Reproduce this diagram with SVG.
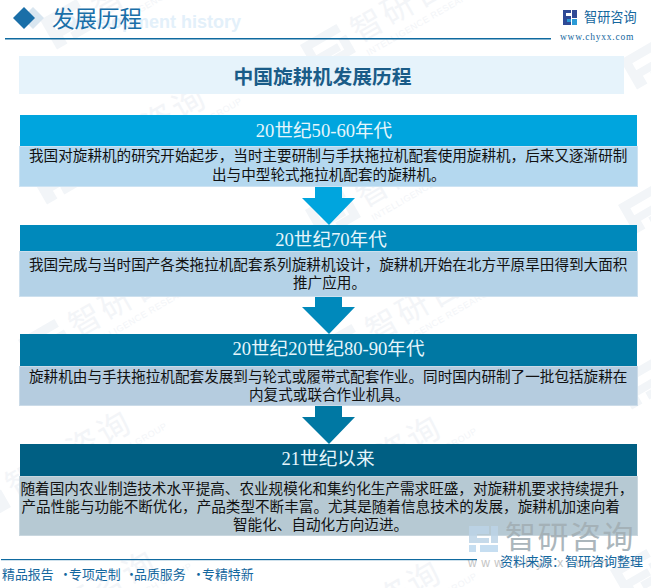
<svg xmlns="http://www.w3.org/2000/svg" width="651" height="588" viewBox="0 0 651 588">
<style>
.h{font-family:"Liberation Serif","Noto Sans CJK SC",serif;font-size:18.6px;fill:#e6f6fc;text-anchor:middle}
.b{font-family:"Noto Sans CJK SC",sans-serif;font-size:14.6px;fill:#111}
.bx{stroke-width:1}
.wt{font-family:"Noto Sans CJK SC",sans-serif;font-size:32px;fill:#f3f5f8;letter-spacing:3px}
.ws{font-family:"Liberation Sans",sans-serif;font-size:9px;fill:#f3f5f8;letter-spacing:.5px}
</style>
<defs>
<g id="wm">
<path d="M0 0h42v9H9v8h24v8H12v9H0zM36 14h9v20H20v-8h16z" fill="#f2f5f8"/>
<text class="wt" x="52" y="28">智研咨询</text>
<text class="ws" x="54" y="44">INTELLIGENCE RESEARCH GROUP</text>
</g>
</defs>
<rect width="651" height="588" fill="#fff"/>
<g id="watermark">
<use href="#wm" transform="translate(30,175) rotate(-30)"/>
<use href="#wm" transform="translate(18,340) rotate(-30)"/>
<use href="#wm" transform="translate(-45,500) rotate(-30)"/>
<use href="#wm" transform="translate(-20,640) rotate(-30)"/>
<use href="#wm" transform="translate(40,20) rotate(-30)"/>
<use href="#wm" transform="translate(300,45) rotate(-30)"/>
<use href="#wm" transform="translate(305,210) rotate(-30)"/>
<use href="#wm" transform="translate(315,345) rotate(-30)"/>
<use href="#wm" transform="translate(265,505) rotate(-30)"/>
<use href="#wm" transform="translate(265,650) rotate(-30)"/>
<use href="#wm" transform="translate(620,60) rotate(-30)"/>
<use href="#wm" transform="translate(618,205) rotate(-30)"/>
<use href="#wm" transform="translate(615,380) rotate(-30)"/>
<use href="#wm" transform="translate(610,570) rotate(-30)"/>
</g>
<g id="header">
<path d="M33 7l11 11-11 11-11-11z" fill="#d9e6f0"/>
<path d="M24 7l11 11-11 11-11-11z" fill="#1a6fa8"/>
<text x="241" y="28" text-anchor="end" font-family="Liberation Sans,sans-serif" font-size="18" font-weight="bold" fill="#e3f0fa">Development history</text>
<text x="52" y="27" font-family="Noto Sans CJK SC,serif" font-size="22.5" fill="#1a6fa8">发展历程</text>
<rect x="5" y="38" width="546" height="1.5" fill="#0f6aa0"/>
<path d="M563 10h8v3h-5v3h5v9h-8zM572 10h5v8h-5z" fill="#2f4a96"/>
<path d="M572 19h5v6h-5zM567 19h4v3h-4z" fill="#2a9ad6"/>
<text x="584" y="22" font-family="Noto Sans CJK SC,sans-serif" font-size="13.2" fill="#14679e">智研咨询</text>
<text x="560" y="40" font-family="Liberation Serif,serif" font-size="9.5" letter-spacing=".75" fill="#14679e">www.chyxx.com</text>
</g>
<g id="title">
<rect x="19" y="56" width="605" height="38" fill="#e6f3fb"/>
<text x="322.5" y="84" font-family="Noto Sans CJK SC,sans-serif" font-size="19.8" font-weight="bold" text-anchor="middle" fill="#1a5c88">中国旋耕机发展历程</text>
</g>
<g id="connectors">
<path id="a1" d="M315 187h27v11h13l-26 27-27-27h13z" fill="#00a5de"/>
<path id="a2" d="M315 297h27v10h13l-26 27-27-27h13z" fill="#0089bb"/>
<path id="a3" d="M315 406h27v11h13l-26 27-27-27h13z" fill="#0078a3"/>
</g>
<g id="node1">
<rect x="20" y="115" width="617" height="31" fill="#00a5de"/>
<rect class="bx" x="19.5" y="146.5" width="618" height="40" fill="#b4d8ef" stroke="#cde3f3"/>
<text class="h" x="324" y="137">20世纪50-60年代</text>
<text class="b" x="29" y="161">我国对旋耕机的研究开始起步，当时主要研制与手扶拖拉机配套使用旋耕机，后来又逐渐研制</text>
<text class="b" x="212" y="180">出与中型轮式拖拉机配套的旋耕机。</text>
</g>
<g id="node2">
<rect x="20" y="225" width="617" height="26" fill="#0089bb"/>
<rect class="bx" x="19.5" y="251.5" width="618" height="45" fill="#b4d2e7" stroke="#cde0ee"/>
<text class="h" x="331" y="246">20世纪70年代</text>
<text class="b" x="29" y="270">我国完成与当时国产各类拖拉机配套系列旋耕机设计，旋耕机开始在北方平原旱田得到大面积</text>
<text class="b" x="293" y="288">推广应用。</text>
</g>
<g id="node3">
<rect x="20" y="334" width="617" height="32" fill="#0078a3"/>
<rect class="bx" x="19.5" y="366.5" width="618" height="39" fill="#b5ccdf" stroke="#cbdbe8"/>
<text class="h" x="328.5" y="355">20世纪20世纪80-90年代</text>
<text class="b" x="29" y="382">旋耕机由与手扶拖拉机配套发展到与轮式或履带式配套作业。同时国内研制了一批包括旋耕在</text>
<text class="b" x="249" y="400">内复式或联合作业机具。</text>
</g>
<g id="node4">
<rect x="20" y="444" width="617" height="32" fill="#005f83"/>
<rect class="bx" x="19.5" y="476.5" width="618" height="59" fill="#b6c9d3" stroke="#c9d7df"/>
<text class="h" x="328" y="465">21世纪以来</text>
<text class="b" x="20.5" y="494">随着国内农业制造技术水平提高、农业规模化和集约化生产需求旺盛，对旋耕机要求持续提升，</text>
<text class="b" x="21.5" y="512">产品性能与功能不断优化，产品类型不断丰富。尤其是随着信息技术的发展，旋耕机加速向着</text>
<text class="b" x="233" y="530">智能化、自动化方向迈进。</text>
</g>
<g id="footer">
<path d="M469 526h20v8h-12v4h12v5h-20zM491 526h7v17h-7z" fill="#bcd3e6" opacity=".85"/>
<path d="M469 545h7v7h-7zM480 545h18v7h-18z" fill="#bcd8ee" opacity=".85"/>
<text x="505" y="548" font-family="Noto Sans CJK SC,sans-serif" font-size="31" letter-spacing="1.5" fill="#a3afb5" opacity=".9">智研咨询</text>
<text x="468" y="567" font-family="Liberation Sans,sans-serif" font-size="12" letter-spacing="4.5" fill="#c4c4c4">www.chyxx.com</text>
<rect x="1" y="559" width="476" height="1.2" fill="#0f6aa0"/>
<text x="500" y="566" font-family="Noto Sans CJK SC,sans-serif" font-size="13" fill="#14679e">资料来源：智研咨询整理</text>
<text y="579" font-family="Noto Sans CJK SC,sans-serif" font-size="12.9" fill="#14679e"><tspan x="2">精品报告</tspan><tspan x="59">·</tspan><tspan x="69">专项定制</tspan><tspan x="125">·</tspan><tspan x="134">品质服务</tspan><tspan x="192">·</tspan><tspan x="202">专精特新</tspan></text>
</g>
</svg>
